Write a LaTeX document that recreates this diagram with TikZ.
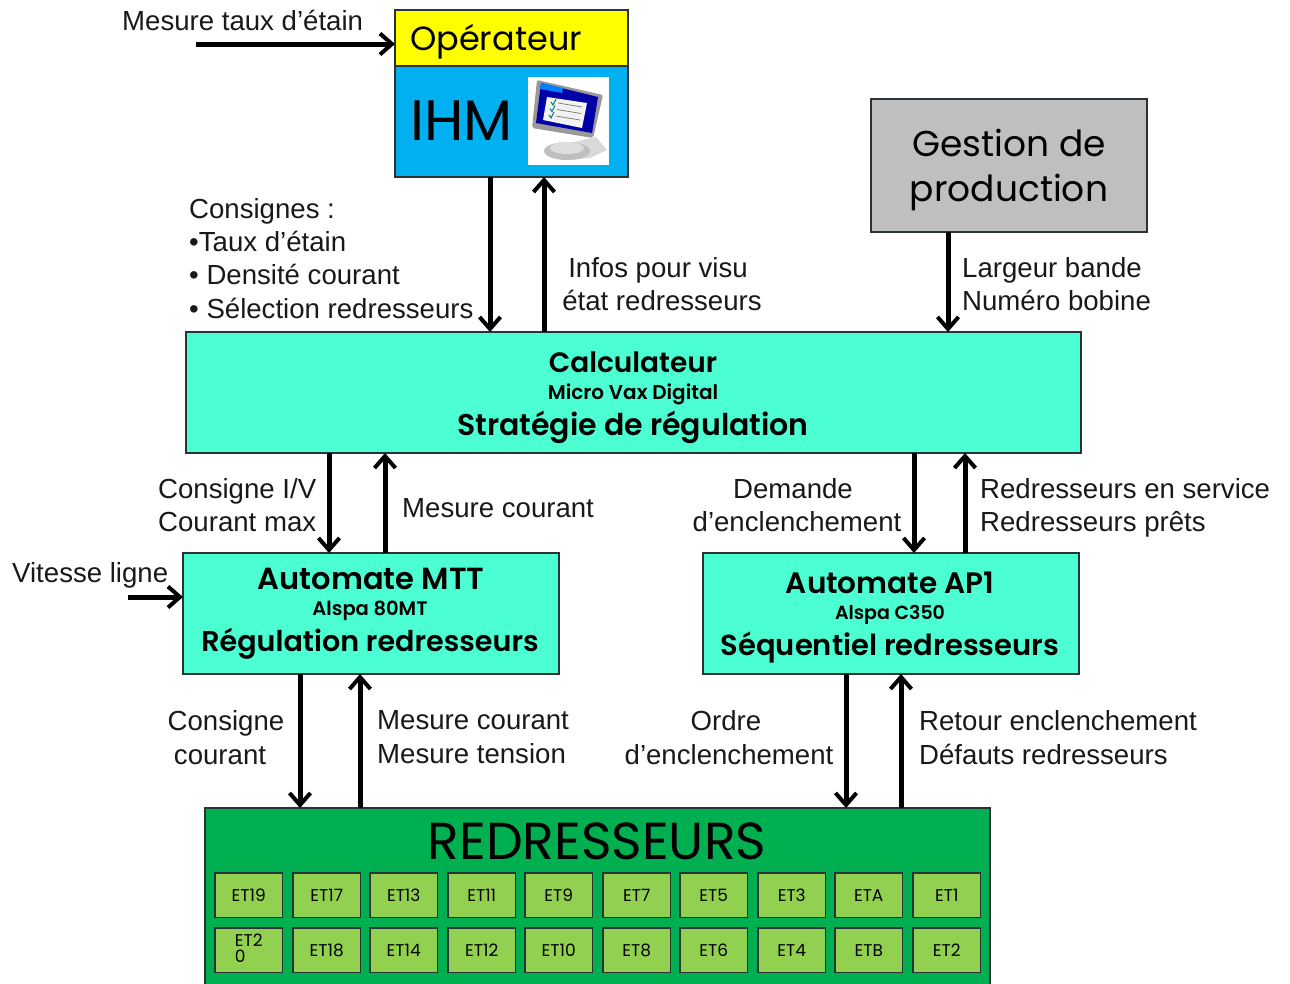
\documentclass[tikz,border=0pt]{standalone}
\usepackage{fontspec}
\usetikzlibrary{arrows.meta}
\setmainfont{Liberation Sans}
\newfontfamily\comic{Poppins}
\newfontfamily\comicb{Poppins}[UprightFont=* SemiBold]
\definecolor{cyanbox}{HTML}{4BFFD2}
\definecolor{ihmblue}{HTML}{00B0F0}
\definecolor{grn}{HTML}{00B050}
\definecolor{lgrn}{HTML}{92D050}
\definecolor{edge}{HTML}{2A3438}
\definecolor{opyellow}{HTML}{FFFF00}
\tikzset{
  x=1pt,y=-1pt,
  box/.style={draw=edge,line width=1.1pt,inner sep=0pt,outer sep=0pt},
  arr/.style={line width=5pt,-{Straight Barb[length=12pt,width=21pt,line width=4pt]}},
  lab/.style={inner sep=0pt,font=\fontsize{27.6}{33.3}\selectfont,text=black!90},
  llab/.style={lab,align=left,anchor=north west},
  clab/.style={lab,align=center,anchor=north},
  et/.style={box,fill=lgrn,minimum width=67.5pt,minimum height=44.5pt,font=\comic\fontsize{17}{19}\selectfont},
  bigt/.style={inner sep=0pt,align=center},
}
\begin{document}
\begin{tikzpicture}
\useasboundingbox (0,0) rectangle (1290,983);
\fill[white] (0,0) rectangle (1290,983);
\foreach \p in {490,544,948,329,385,914,965,300,360,846,901}{\coordinate (x\p) at (\p,0);}
\coordinate (startA) at (196,44);
\coordinate (startB) at (128,597);
% boxes
\node[box,fill=ihmblue,minimum width=233pt,minimum height=111pt,anchor=north west] (ihm) at (395,66) {};
\node[box,fill=opyellow,minimum width=233pt,minimum height=56pt,anchor=north west] (op) at (395,10) {};
\node[box,fill=black!25,minimum width=276pt,minimum height=133pt,anchor=north west] (gest) at (871,99) {};
\node[box,fill=cyanbox,minimum width=895pt,minimum height=121pt,anchor=north west] (calc) at (186,332) {};
\node[box,fill=cyanbox,minimum width=376pt,minimum height=121pt,anchor=north west] (mtt) at (183,553) {};
\node[box,fill=cyanbox,minimum width=376pt,minimum height=121pt,anchor=north west] (ap) at (703,553) {};
\node[box,fill=grn,minimum width=785pt,minimum height=190pt,anchor=north west] (red) at (205,808) {};
% big text
\node[bigt,anchor=west,font=\comic\fontsize{33.5}{40}\selectfont] (tOp) at (410,42) {Opérateur};
\node[bigt,anchor=west,font=\comic\fontsize{57}{58}\selectfont] (tIhm) at (410,121) {IHM};
\node[bigt,font=\comic\fontsize{36}{45}\selectfont] (tGest) at (1009,170) {Gestion de\\production};
\node[bigt,font=\comic\fontsize{52}{54}\selectfont] (tRed) at (597,841) {REDRESSEURS};
\node[bigt,font=\comicb\fontsize{28}{30}\selectfont] (c1) at (633,362) {Calculateur};
\node[bigt,font=\comicb\fontsize{20}{22}\selectfont] (c2) at (633,394) {Micro Vax Digital};
\node[bigt,font=\comicb\fontsize{30}{32}\selectfont] (c3) at (633,427) {Stratégie de régulation};
\node[bigt,font=\comicb\fontsize{30.5}{32}\selectfont] (m1) at (371,579) {Automate MTT};
\node[bigt,font=\comicb\fontsize{19.5}{22}\selectfont] (m2) at (370,611) {Alspa 80MT};
\node[bigt,font=\comicb\fontsize{28.6}{30}\selectfont] (m3) at (370,644) {Régulation redresseurs};
\node[bigt,font=\comicb\fontsize{29.5}{32}\selectfont] (a1) at (890,583) {Automate AP1};
\node[bigt,font=\comicb\fontsize{19}{22}\selectfont] (a2) at (890,615) {Alspa C350};
\node[bigt,font=\comicb\fontsize{29}{30}\selectfont] (a3) at (890,648) {Séquentiel redresseurs};
% icon
\fill[white] (528,77) rectangle (609,165);
\fill[black!15] (556,146) -- (596,137) -- (607,150) -- (590,158) -- (570,160) -- cycle;
\fill[black!25] (567,151) ellipse [x radius=23pt,y radius=9pt];
\fill[black!13] (567,148) ellipse [x radius=17pt,y radius=6pt];
\fill[black!40,rounded corners=2pt] (537,80) -- (603,95) -- (593,138) -- (532,128) -- cycle;
\fill[blue!65!black] (541,83) -- (598,97) -- (592,133) -- (536,123) -- cycle;
\fill[blue!50!cyan] (541,83) -- (563,88) -- (562,93) -- (540,89) -- cycle;
\fill[black!5] (547,97) -- (587,103) -- (582,128) -- (543,120) -- cycle;
\foreach \i in {0,1,2}{
  \draw[teal,line width=1pt] (551-\i,{102+6.5*\i}) -- (553-\i,{105+6.5*\i}) -- (556-\i,{99+6.5*\i});
  \draw[black!50,line width=.8pt] (558-\i,{103+6.5*\i}) -- (582-\i,{107+6.5*\i});
}
% ET boxes
\foreach \xp/\nm/\yp/\tx in {
 215/a/873/ET19,293/b/873/ET17,370/c/873/ET13,448/d/873/ET11,525/e/873/ET9,603/f/873/ET7,680/g/873/ET5,758/h/873/ET3,835/i/873/ETA,913/j/873/ET1,
 293/k/928/ET18,370/l/928/ET14,448/m/928/ET12,525/n/928/ET10,603/o/928/ET8,680/p/928/ET6,758/q/928/ET4,835/r/928/ETB,913/s/928/ET2}{
  \node[et,anchor=north west] (et\nm) at (\xp,\yp) {\tx};
}
\node[et,anchor=north west] (etu) at (215,928) {\begin{tabular}{@{}l@{}}ET2\\[-3pt]0\end{tabular}};
% labels
\node[lab,anchor=west] (l1) at (122,20) {Mesure taux d’étain};
\node[llab] (l2) at (189,198) {Consignes :\\•Taux d’étain\\• Densité courant\\• Sélection redresseurs};
\node[clab] (l3) at (662,257) {\hspace*{-8pt}Infos pour visu\\état redresseurs};
\node[llab] (l4) at (962,257) {Largeur bande\\Numéro bobine};
\node[llab] (l5) at (158,478) {Consigne I/V\\Courant max};
\node[lab,anchor=west] (l6) at (402,508) {Mesure courant};
\node[clab] (l7) at (797,478) {\hspace*{-8pt}Demande\\d’enclenchement};
\node[llab] (l8) at (980,478) {Redresseurs en service\\Redresseurs prêts};
\node[lab,anchor=west] (l9) at (12,575) {Vitesse ligne};
\node[clab] (l10) at (226,710) {Consigne\\[1pt]\hspace*{-12pt}courant};
\node[llab] (l11) at (377,710) {Mesure courant\\[1pt]Mesure tension};
\node[clab] (l12) at (729,710) {\hspace*{-6pt}Ordre\\[1pt]d’enclenchement};
\node[llab] (l13) at (919,710) {Retour enclenchement\\[1pt]Défauts redresseurs};
% connectors
\draw[arr] (startA) -- (op.west |- startA);
\draw[arr] (startB) -- (mtt.west |- startB);
\draw[arr] (ihm.south -| x490) -- (calc.north -| x490);
\draw[arr] (calc.north -| x544) -- (ihm.south -| x544);
\draw[arr] (gest.south -| x948) -- (calc.north -| x948);
\draw[arr] (calc.south -| x329) -- (mtt.north -| x329);
\draw[arr] (mtt.north -| x385) -- (calc.south -| x385);
\draw[arr] (calc.south -| x914) -- (ap.north -| x914);
\draw[arr] (ap.north -| x965) -- (calc.south -| x965);
\draw[arr] (mtt.south -| x300) -- (red.north -| x300);
\draw[arr] (red.north -| x360) -- (mtt.south -| x360);
\draw[arr] (ap.south -| x846) -- (red.north -| x846);
\draw[arr] (red.north -| x901) -- (ap.south -| x901);
\end{tikzpicture}
\end{document}
